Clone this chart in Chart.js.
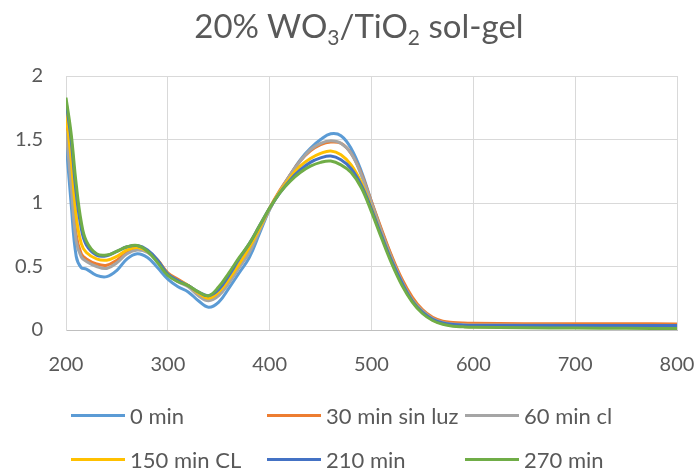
<!DOCTYPE html>
<html>
<head>
<meta charset="utf-8">
<script src="https://cdn.jsdelivr.net/npm/chart.js@4.4.0/dist/chart.umd.min.js"></script>
<style>
  html, body { margin: 0; padding: 0; background: #fff; }
  #wrap { position: relative; width: 698px; height: 471px; font-family: Lato, "Open Sans", sans-serif; color: #595959; }
  #myChart { position: absolute; left: 0; top: 0; }
  #title { position: absolute; left: 10px; width: 698px; top: 5px; text-align: center; font-size: 33px; line-height: 40px; }
  #title sub { font-size: 21px; vertical-align: -7px; line-height: 0; }
  .item { position: absolute; font-size: 22px; line-height: 24px; white-space: nowrap; }
  .item span.swatch { position: absolute; left: 0; top: 10px; width: 54px; height: 3px; }
  .item span.txt { position: absolute; left: 59px; top: 0; }
</style>
</head>
<body>
<div id="wrap">
  <canvas id="myChart" width="698" height="471"></canvas>
  <div id="title">20% WO<sub>3</sub>/TiO<sub>2</sub> sol-gel</div>
  <div id="legend"></div>
</div>
<script>
// wavelength (nm)
const waves = [200,205,210,215,220,230,240,250,260,270,280,290,300,310,320,330,340,350,360,370,380,390,400,410,420,430,440,450,460,470,480,490,500,510,520,530,540,550,560,570,580,590,600,650,700,750,800];

const min0 = [1.49,1.00,0.58,0.49,0.48,0.43,0.42,0.47,0.56,0.60,0.57,0.49,0.40,0.34,0.30,0.23,0.18,0.22,0.33,0.45,0.57,0.76,0.95,1.09,1.22,1.34,1.43,1.50,1.545,1.53,1.43,1.25,1.01,0.78,0.57,0.38,0.24,0.15,0.09,0.06,0.05,0.045,0.043,0.04,0.04,0.038,0.037];
const min30 = [1.62,1.20,0.75,0.60,0.56,0.52,0.51,0.55,0.61,0.64,0.62,0.55,0.45,0.40,0.35,0.29,0.25,0.28,0.38,0.50,0.62,0.79,0.96,1.10,1.22,1.33,1.41,1.46,1.48,1.47,1.39,1.23,1.01,0.79,0.58,0.40,0.26,0.16,0.10,0.07,0.06,0.055,0.053,0.05,0.05,0.05,0.048];
const min60 = [1.57,1.15,0.70,0.575,0.54,0.50,0.485,0.53,0.60,0.63,0.61,0.54,0.44,0.38,0.34,0.27,0.23,0.27,0.37,0.49,0.61,0.78,0.95,1.09,1.22,1.33,1.42,1.47,1.49,1.47,1.39,1.22,1.00,0.77,0.56,0.38,0.24,0.15,0.09,0.06,0.048,0.043,0.04,0.038,0.036,0.034,0.033];
const min150 = [1.71,1.35,0.90,0.68,0.61,0.56,0.55,0.58,0.63,0.65,0.62,0.55,0.44,0.39,0.35,0.29,0.25,0.30,0.40,0.52,0.65,0.80,0.96,1.09,1.20,1.29,1.35,1.39,1.41,1.38,1.30,1.16,0.96,0.74,0.54,0.36,0.23,0.14,0.08,0.05,0.035,0.028,0.025,0.022,0.02,0.02,0.02];
const min210 = [1.80,1.50,1.08,0.80,0.67,0.59,0.585,0.62,0.655,0.665,0.63,0.55,0.44,0.39,0.35,0.30,0.27,0.32,0.43,0.56,0.68,0.82,0.96,1.08,1.18,1.26,1.32,1.355,1.37,1.34,1.27,1.14,0.95,0.74,0.54,0.37,0.23,0.14,0.085,0.055,0.043,0.038,0.036,0.035,0.035,0.035,0.035];
const min270 = [1.83,1.55,1.15,0.85,0.70,0.60,0.59,0.62,0.655,0.665,0.62,0.53,0.43,0.38,0.35,0.30,0.27,0.34,0.45,0.57,0.68,0.82,0.96,1.08,1.17,1.24,1.29,1.32,1.33,1.30,1.24,1.12,0.93,0.72,0.52,0.35,0.22,0.13,0.075,0.045,0.03,0.025,0.022,0.018,0.015,0.013,0.012];

const seriesNames = ['0 min', '30 min sin luz', '60 min cl', '150 min CL', '210 min', '270 min'];
const seriesData = [min0, min30, min60, min150, min210, min270];
const colors = ['#5B9BD5', '#ED7D31', '#A5A5A5', '#FFC000', '#4472C4', '#70AD47'];

const xTicks = [200, 300, 400, 500, 600, 700, 800];
const yTicks = [0, 0.5, 1, 1.5, 2];

const datasets = seriesNames.map((name, i) => ({
    label: name,
    data: waves.map((w, j) => ({ x: w, y: seriesData[i][j] })),
    borderColor: colors[i],
    backgroundColor: colors[i],
    borderWidth: 3,
    pointRadius: 0,
    tension: 0.4,
    fill: false,
    order: seriesNames.length - i   // later series drawn on top, like Excel
}));

const ctx = document.getElementById('myChart').getContext('2d');
const font = { family: 'Lato, "Open Sans", sans-serif', size: 20 };

new Chart(ctx, {
    type: 'line',
    data: { datasets },
    options: {
        responsive: false,
        animation: false,
        layout: { padding: { left: 0, right: 21, top: 76, bottom: 0 } },
        plugins: { legend: { display: false }, title: { display: false }, tooltip: { enabled: false } },
        scales: {
            x: {
                type: 'linear',
                min: xTicks[0],
                max: xTicks[xTicks.length - 1],
                afterBuildTicks: s => { s.ticks = xTicks.map(v => ({ value: v })); },
                // fixed plot box, ignore label overflow
                afterFit: s => { s.height = 141; s.paddingLeft = 0; s.paddingRight = 0; },
                ticks: { color: '#595959', font, padding: 23 },
                grid: { color: '#D9D9D9', lineWidth: 1, drawTicks: false },
                border: { color: '#BFBFBF', width: 1 }
            },
            y: {
                min: yTicks[0],
                max: yTicks[yTicks.length - 1],
                afterBuildTicks: s => { s.ticks = yTicks.map(v => ({ value: v })); },
                afterFit: s => { s.width = 66; },
                ticks: { color: '#595959', font, padding: 23, callback: v => String(v) },
                grid: { color: '#D9D9D9', lineWidth: 1, drawTicks: false },
                border: { color: '#D9D9D9', width: 1 }
            }
        }
    }
});

// Excel-style legend in a fixed 3-column grid
const legendCols = [71, 267, 465];
const legendRows = [404, 448];
const legend = document.getElementById('legend');
seriesNames.forEach((name, i) => {
    const d = document.createElement('div');
    d.className = 'item';
    d.style.left = legendCols[i % 3] + 'px';
    d.style.top = legendRows[Math.floor(i / 3)] + 'px';
    d.innerHTML = `<span class="swatch" style="background:${colors[i]}"></span><span class="txt">${name}</span>`;
    legend.appendChild(d);
});
</script>
</body>
</html>
